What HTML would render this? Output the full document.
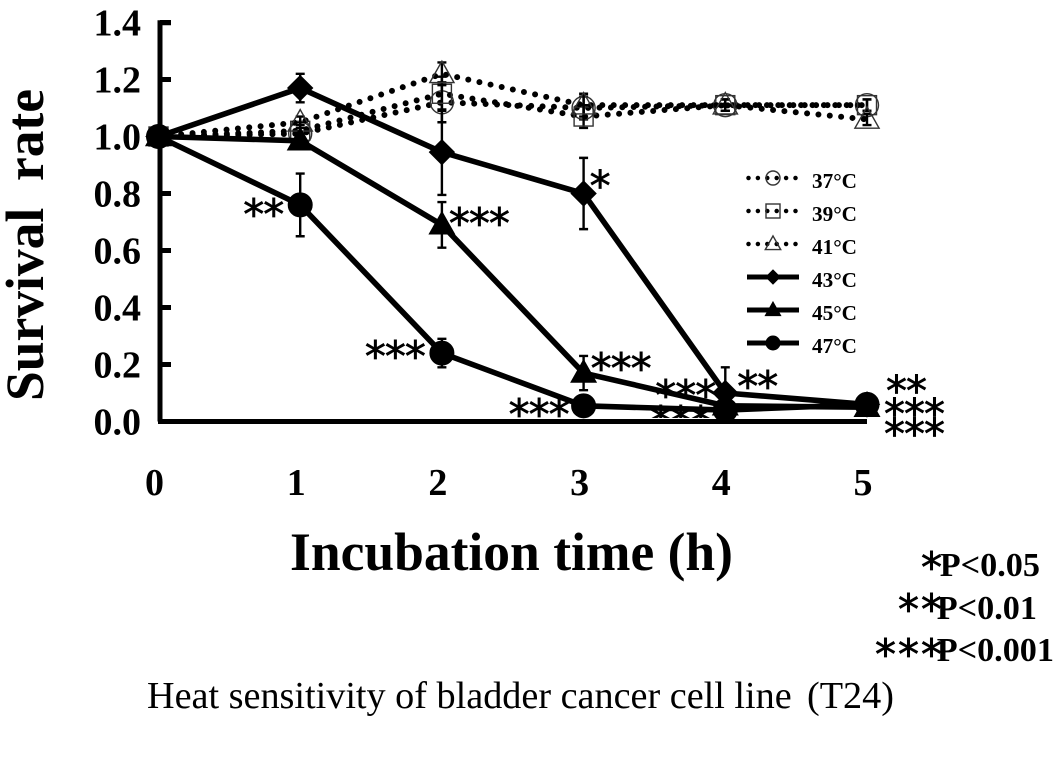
<!DOCTYPE html>
<html lang="en">
<head>
<meta charset="utf-8">
<title>Heat sensitivity of bladder cancer cell line (T24)</title>
<style>
html,body{margin:0;padding:0;background:#fff;width:1063px;height:760px;overflow:hidden}
svg{display:block}
text{font-family:"Liberation Serif","Noto Serif CJK SC",serif;fill:#000}
.tick{font-weight:bold;font-size:38px}
.star{font-family:"DejaVu Sans",sans-serif;font-size:42px;letter-spacing:-1px;stroke:#000;stroke-width:0.7px}
.note-star{letter-spacing:2px}
.leg{font-weight:bold;font-size:21px}
.p{font-weight:bold;font-size:34.2px}
</style>
</head>
<body>
<svg id="chart" width="1063" height="760" viewBox="0 0 1063 760" xmlns="http://www.w3.org/2000/svg">
  <defs><clipPath id="above-axis"><rect x="0" y="0" width="1063" height="418"></rect></clipPath></defs>
  <g id="star-layer"></g>
  <g id="series-layer"></g>
  <g id="axis-layer"></g>
  <g id="legend-layer"></g>
  <text x="43" y="245" transform="rotate(-90 43 245)" text-anchor="middle" font-weight="bold" font-size="53.5" textLength="312" lengthAdjust="spacingAndGlyphs" xml:space="preserve">Survival  rate</text>
  <text x="290" y="570" font-weight="bold" font-size="53.6" textLength="443" lengthAdjust="spacingAndGlyphs">Incubation time (h)</text>
  <text y="708" font-size="38.2"><tspan x="147">Heat sensitivity of bladder cancer cell line</tspan><tspan x="807">(T24)</tspan></text>
  <text x="1040" y="576" text-anchor="end" class="p">P&lt;0.05</text>
  <text x="1037" y="619" text-anchor="end" class="p">P&lt;0.01</text>
  <text x="1054" y="661" text-anchor="end" class="p">P&lt;0.001</text>
  <text x="921" y="582" class="star note-star">*</text>
  <text x="898" y="624" class="star note-star">**</text>
  <text x="875" y="669" class="star note-star">***</text>
</svg>
<script>
var hours = [0, 1, 2, 3, 4, 5];
var yTicks = [0, 0.2, 0.4, 0.6, 0.8, 1.0, 1.2, 1.4];
var t37 = [1.0, 1.01, 1.12, 1.10, 1.11, 1.11];
var t39 = [1.0, 1.02, 1.15, 1.07, 1.11, 1.11];
var t41 = [1.0, 1.05, 1.22, 1.11, 1.11, 1.06];
var t43 = [1.0, 1.17, 0.945, 0.80, 0.10, 0.06];
var t45 = [1.0, 0.985, 0.69, 0.17, 0.055, 0.05];
var t47 = [1.0, 0.76, 0.24, 0.055, 0.04, 0.06];
var err37 = [0, 0.03, 0.07, 0.04, 0.02, 0.02];
var err39 = [0, 0.03, 0.06, 0.04, 0.02, 0.02];
var err41 = [0, 0.02, 0.04, 0.04, 0.02, 0.02];
var err43 = [0, 0.05, 0.15, 0.125, 0.09, 0];
var err45 = [0, 0, 0.08, 0.06, 0, 0];
var err47 = [0, 0.11, 0.05, 0, 0, 0];

var NS = 'http://www.w3.org/2000/svg';
function xAt(t) { return 158.5 + 141.7 * t; }
function yAt(v) { return 421.5 - 285 * v; }
function make(tag, parent, attrs) {
  var el = document.createElementNS(NS, tag);
  for (var k in attrs) el.setAttribute(k, attrs[k]);
  parent.appendChild(el);
  return el;
}
function marker(parent, shape, cx, cy, filled, r) {
  var fill = filled ? '#000' : 'none';
  var st = filled ? '#000' : '#333';
  var common = {fill: fill, stroke: st, 'stroke-width': filled ? 1 : 1.4};
  var el;
  if (shape === 'circle') {
    common.cx = cx; common.cy = cy; common.r = r;
    el = make('circle', parent, common);
  } else if (shape === 'square') {
    common.x = cx - r; common.y = cy - r; common.width = 2 * r; common.height = 2 * r;
    el = make('rect', parent, common);
  } else if (shape === 'triangle') {
    common.points = cx + ',' + (cy - r * 1.15) + ' ' + (cx + r * 1.1) + ',' + (cy + r * 0.8) + ' ' + (cx - r * 1.1) + ',' + (cy + r * 0.8);
    el = make('polygon', parent, common);
  } else {
    common.points = cx + ',' + (cy - r) + ' ' + (cx + r) + ',' + cy + ' ' + cx + ',' + (cy + r) + ' ' + (cx - r) + ',' + cy;
    el = make('polygon', parent, common);
  }
  return el;
}
function drawSeries(name, vals, errs, shape, filled, r) {
  var layer = document.getElementById('series-layer');
  var g = make('g', layer, {});
  
  
  hours.forEach(function (t, i) {
    if (!errs[i]) return;
    var x = xAt(t), hi = yAt(vals[i] + errs[i]), lo = yAt(vals[i] - errs[i]);
    var bar = make('path', g, {d: 'M' + x + ' ' + hi + 'V' + lo + 'M' + (x - 4.5) + ' ' + hi + 'H' + (x + 4.5) + 'M' + (x - 4.5) + ' ' + lo + 'H' + (x + 4.5), stroke: '#000', 'stroke-width': 2.4, fill: 'none'});
    
    
  });
  var pts = hours.map(function (t, i) { return xAt(t) + ',' + yAt(vals[i]); }).join(' ');
  var attrs = filled
    ? {points: pts, fill: 'none', stroke: '#000', 'stroke-width': 5.6}
    : {points: pts, fill: 'none', stroke: '#000', 'stroke-width': 6, 'stroke-linecap': 'round', 'stroke-dasharray': '0 11.4'};
  var line = make('polyline', g, attrs);
  
  
  hours.forEach(function (t, i) {
    var m = marker(g, shape, xAt(t), yAt(vals[i]), filled, r);
    
    
  });
}
drawSeries('series-37c', t37, err37, 'circle', false, 11.5);
drawSeries('series-39c', t39, err39, 'square', false, 9.5);
drawSeries('series-41c', t41, err41, 'triangle', false, 11);
drawSeries('series-43c', t43, err43, 'diamond', true, 12.5);
drawSeries('series-45c', t45, err45, 'triangle', true, 11.5);
drawSeries('series-47c', t47, err47, 'circle', true, 12);

var axisLayer = document.getElementById('axis-layer');
var axisY = make('path', axisLayer, {d: 'M171 22.7H160V421.5', stroke: '#000', 'stroke-width': 5, fill: 'none'});


var axisX = make('line', axisLayer, {x1: 158, y1: yAt(0), x2: xAt(5), y2: yAt(0), stroke: '#000', 'stroke-width': 5});


yTicks.forEach(function (v) {
  var mark = make('line', axisLayer, {x1: 160, x2: 171, y1: yAt(v), y2: yAt(v), stroke: '#000', 'stroke-width': 5});
  
  
  var lab = make('text', axisLayer, {x: 141, y: yAt(v) + 13, 'text-anchor': 'end', 'class': 'tick'});
  
  
  lab.textContent = v.toFixed(1);
});
hours.forEach(function (t) {
  var lab = make('text', axisLayer, {x: xAt(t) - 4, y: 495, 'text-anchor': 'middle', 'class': 'tick'});
  
  
  lab.textContent = String(t);
});

var starLayer = document.getElementById('star-layer');
function star(vals, i, text, dx, dy, clipped) {
  var el = make('text', starLayer, {x: xAt(hours[i]) + dx, y: yAt(vals[i]) + dy, 'class': 'star'});
  
  
  if (clipped) el.setAttribute('clip-path', 'url(#above-axis)');
  el.textContent = text;
}
star(t47, 1, '**', -57, 24);
star(t45, 2, '***', 7, 13);
star(t43, 3, '*', 6, 7);
star(t47, 2, '***', -77, 18);
star(t45, 3, '***', 7, 10);
star(t47, 3, '***', -75, 23);
star(t45, 4, '***', -70, 4);
star(t45, 4, '***', -75, 30, true);
star(t43, 4, '**', 12, 8);
star(t43, 5, '**', 19, 1);
star(t45, 5, '***', 17, 21);
star(t45, 5, '***', 17, 41);

var legendNames = ['37°C', '39°C', '41°C', '43°C', '45°C', '47°C'];
var legendShapes = ['circle', 'square', 'triangle', 'diamond', 'triangle', 'circle'];
var legendFilled = [false, false, false, true, true, true];
var legendLayer = document.getElementById('legend-layer');
legendNames.forEach(function (name, i) {
  var y = 178 + i * 33;
  var g = make('g', legendLayer, {});
  
  
  var attrs = legendFilled[i]
    ? {x1: 747, x2: 799, y1: y, y2: y, stroke: '#000', 'stroke-width': 5}
    : {x1: 748.5, x2: 796, y1: y, y2: y, stroke: '#000', 'stroke-width': 4.5, 'stroke-linecap': 'round', 'stroke-dasharray': '0 9.4'};
  make('line', g, attrs);
  marker(g, legendShapes[i], 773, y, legendFilled[i], 7);
  var lab = make('text', g, {x: 812, y: y + 10, 'class': 'leg', textLength: 45, lengthAdjust: 'spacingAndGlyphs'});
  
  
  lab.textContent = name;
});
</script>
</body>
</html>
